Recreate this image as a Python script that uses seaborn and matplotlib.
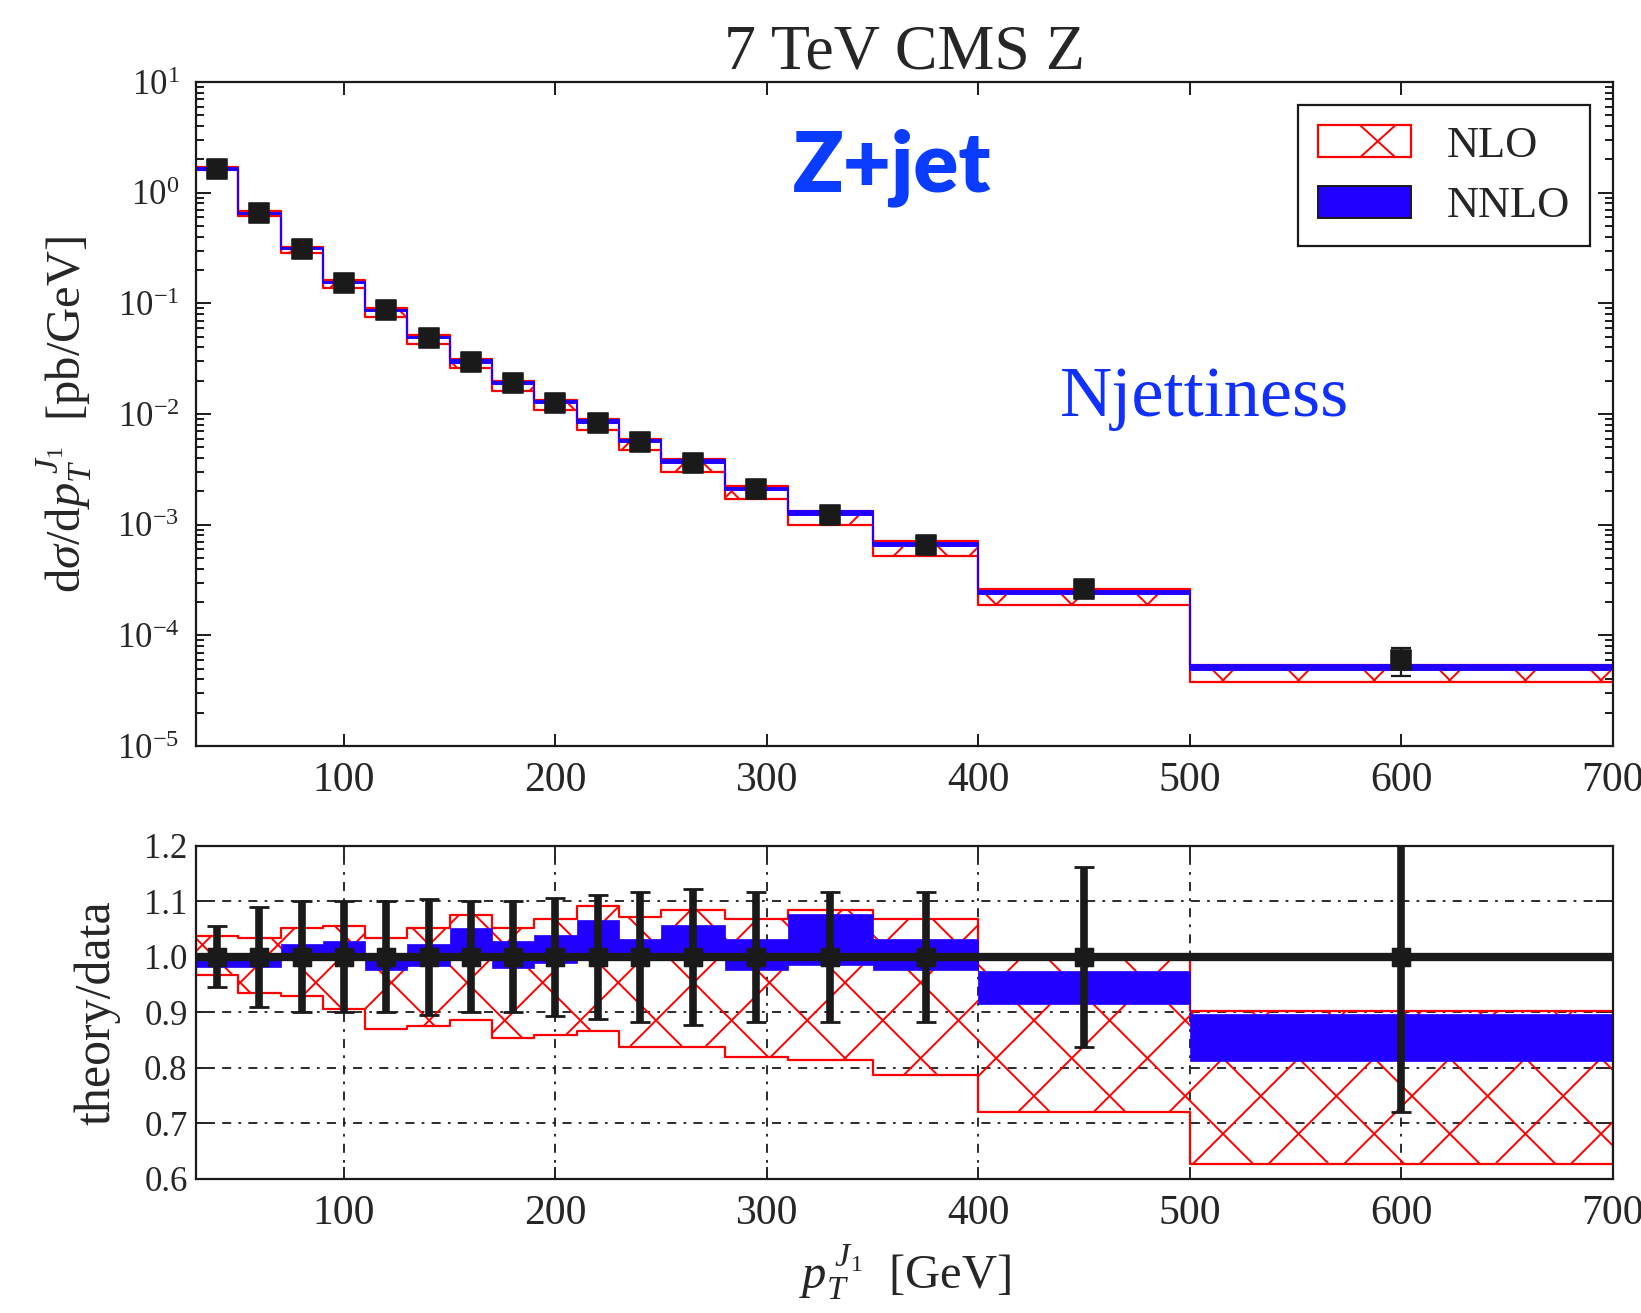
import numpy as np
import seaborn as sns
import matplotlib.pyplot as plt
from matplotlib.collections import LineCollection
from matplotlib.patches import Rectangle, Patch
from matplotlib.lines import Line2D
from matplotlib.legend_handler import HandlerBase
from matplotlib.ticker import MultipleLocator, FormatStrFormatter, LogLocator, NullFormatter

# bin edges and data points (pT of leading jet, GeV)
bin_edges = [30, 50, 70, 90, 110, 130, 150, 170, 190, 210, 230, 250, 280, 310, 350, 400, 500, 700]
pt_center = [40, 60, 80, 100, 120, 140, 160, 180, 200, 220, 240, 265, 295, 330, 375, 450, 600]

# CMS data, pb/GeV, and relative error
data_xs = [1.65, 0.66, 0.31, 0.153, 0.087, 0.049, 0.0293, 0.019, 0.0126, 0.0083, 0.0056,
           0.0036, 0.0021, 0.00123, 0.00066, 0.00026, 6.0e-5]
data_err = [0.055, 0.09, 0.10, 0.10, 0.10, 0.105, 0.10, 0.10, 0.107, 0.112, 0.117,
            0.123, 0.117, 0.117, 0.117, 0.162, 0.28]

# theory / data bands
nlo_lo = [0.967, 0.935, 0.929, 0.907, 0.870, 0.875, 0.887, 0.854, 0.860, 0.867, 0.837,
          0.837, 0.820, 0.815, 0.787, 0.721, 0.627]
nlo_hi = [1.038, 1.035, 1.052, 1.055, 1.035, 1.052, 1.076, 1.052, 1.068, 1.092, 1.072,
          1.085, 1.069, 1.085, 1.069, 1.000, 0.902]
nnlo_lo = [0.982, 0.982, 0.995, 0.995, 0.977, 0.983, 0.995, 0.981, 0.990, 0.995, 0.995,
           0.995, 0.976, 0.986, 0.976, 0.916, 0.813]
nnlo_hi = [1.005, 1.000, 1.024, 1.028, 1.000, 1.024, 1.052, 1.028, 1.040, 1.066, 1.033,
           1.057, 1.033, 1.078, 1.033, 0.974, 0.897]

sns.set_theme(style='ticks')
plt.rcParams['font.family'] = ['Liberation Serif', 'DejaVu Serif']
plt.rcParams['mathtext.fontset'] = 'custom'
plt.rcParams['mathtext.rm'] = 'Liberation Serif'
plt.rcParams['mathtext.it'] = 'Liberation Serif:italic'
plt.rcParams['mathtext.bf'] = 'Liberation Serif:bold'
plt.rcParams['axes.unicode_minus'] = False

RED = '#ff0000'
BLUE = '#2200ff'

fig = plt.figure(figsize=(16.41, 13.13), dpi=100)
ax1 = fig.add_axes([0.1194, 0.4318, 0.8635, 0.5057])
ax2 = fig.add_axes([0.1194, 0.1021, 0.8635, 0.2536])


def ext(v):
    return list(v) + [v[-1]]


def add_hatch(ax, coll, d=0.756, x0=14.12, y0=2.17, lw=1.4):
    # big diagonal cross hatching, clipped to the band
    W, H = fig.get_size_inches()
    segs = []
    a0, b0 = y0 - x0, y0 + x0
    for k in range(-45, 46):
        a = a0 + k * d
        segs.append([(-H, -H + a), (W + H, W + H + a)])
        b = b0 + k * d
        segs.append([(-H, H + b), (W + H, -(W + H) + b)])
    lc = LineCollection(segs, colors=RED, linewidths=lw, transform=fig.dpi_scale_trans)
    lc.set_clip_path(coll.get_paths()[0], coll.get_transform())
    ax.add_collection(lc, autolim=False)


data = np.array(data_xs)

# ---- top panel ----
nlo_lo_abs = np.array(nlo_lo) * data
nlo_hi_abs = np.array(nlo_hi) * data
nnlo_lo_abs = np.array(nnlo_lo) * data
nnlo_hi_abs = np.array(nnlo_hi) * data

c1 = ax1.fill_between(bin_edges, ext(nlo_lo_abs), ext(nlo_hi_abs), step='post',
                      facecolor='none', edgecolor=RED, lw=1.6, zorder=2)
add_hatch(ax1, c1)
ax1.fill_between(bin_edges, ext(nnlo_lo_abs), ext(nnlo_hi_abs), step='post',
                 facecolor=BLUE, edgecolor=BLUE, lw=1.4, zorder=3)
ax1.errorbar(pt_center, data, yerr=data * np.array(data_err), fmt='none',
             ecolor='k', elinewidth=1.6, capsize=7, capthick=1.6, zorder=4)
sns.scatterplot(x=pt_center, y=data_xs, marker='s', s=210, color='k',
                edgecolor='k', ax=ax1, zorder=5, legend=False)

ax1.set_yscale('log')
ax1.set_xlim(30, 700)
ax1.set_ylim(1e-5, 10)
ax1.xaxis.set_major_locator(MultipleLocator(100))
ax1.yaxis.set_major_locator(LogLocator(base=10, numticks=10))
ax1.yaxis.set_minor_locator(LogLocator(base=10, subs=np.arange(2, 10), numticks=20))
ax1.yaxis.set_minor_formatter(NullFormatter())
ax1.tick_params(axis='both', which='both', direction='in', top=True, right=True,
                color='k', width=1.4)
ax1.tick_params(axis='y', which='major', length=11, labelsize=25, pad=12)
ax1.tick_params(axis='y', which='minor', length=6)
ax1.tick_params(axis='x', which='major', length=9, labelsize=30, pad=11)
ax1.set_ylabel(r'$\mathrm{d}\sigma/\mathrm{d}p_T^{\;J_1}$  [pb/GeV]', fontsize=35)
ax1.yaxis.set_label_coords(-0.072, 0.5)
ax1.set_xlabel('')
ax1.set_title('7 TeV CMS Z', fontsize=46, pad=8)

ax1.text(0.4915, 0.836, 'Z+jet', transform=ax1.transAxes, ha='center', va='baseline',
         fontsize=60, fontweight='heavy', color='#0a3cff', family=['Lato', 'DejaVu Sans'])
ax1.text(0.712, 0.497, 'Njettiness', transform=ax1.transAxes, ha='center', va='baseline',
         fontsize=52, color='#1030ff')


class HandlerCross(HandlerBase):
    def create_artists(self, legend, orig_handle, xdescent, ydescent, width, height,
                       fontsize, trans):
        rect = Rectangle((-xdescent, -ydescent), width, height, facecolor='none',
                         edgecolor=RED, lw=1.6, transform=trans)
        cx = -xdescent + 0.64 * width
        h = height
        l1 = Line2D([cx - h / 2 * 1.1, cx + h / 2 * 1.1], [-ydescent, -ydescent + h],
                    color=RED, lw=1.4, transform=trans)
        l2 = Line2D([cx - h / 2 * 1.1, cx + h / 2 * 1.1], [-ydescent + h, -ydescent],
                    color=RED, lw=1.4, transform=trans)
        return [rect, l1, l2]


h_nlo = Patch(facecolor='none', edgecolor=RED)
h_nnlo = Patch(facecolor=BLUE, edgecolor='k', lw=1.4)
leg = ax1.legend([h_nlo, h_nnlo], ['NLO', 'NNLO'], loc='upper right',
                 bbox_to_anchor=(0.984, 0.965), borderaxespad=0, fontsize=32,
                 handlelength=2.1, handleheight=0.73, handletextpad=0.8,
                 labelspacing=0.45, borderpad=0.45, fancybox=False, framealpha=1,
                 edgecolor='k', handler_map={h_nlo: HandlerCross()})
leg.get_frame().set_linewidth(1.6)

# ---- ratio panel ----
c2 = ax2.fill_between(bin_edges, ext(nlo_lo), ext(nlo_hi), step='post',
                      facecolor='none', edgecolor=RED, lw=1.6, zorder=2)
add_hatch(ax2, c2)
ax2.fill_between(bin_edges, ext(nnlo_lo), ext(nnlo_hi), step='post',
                 facecolor=BLUE, edgecolor=BLUE, lw=0.5, zorder=3)
ax2.axhline(1.0, color='k', lw=6, zorder=4)
ax2.errorbar(pt_center, np.ones(len(pt_center)), yerr=data_err, fmt='none',
             ecolor='k', elinewidth=5.5, capsize=7, capthick=2, zorder=5)
sns.scatterplot(x=pt_center, y=np.ones(len(pt_center)), marker='s', s=180, color='k',
                edgecolor='k', ax=ax2, zorder=6, legend=False)

ax2.set_xlim(30, 700)
ax2.set_ylim(0.6, 1.2)
ax2.xaxis.set_major_locator(MultipleLocator(100))
ax2.yaxis.set_major_locator(MultipleLocator(0.1))
ax2.yaxis.set_major_formatter(FormatStrFormatter('%.1f'))
ax2.grid(True, color='k', lw=1.3, linestyle=(0, (5, 4, 1.5, 4)))
ax2.set_axisbelow(True)
ax2.tick_params(axis='both', direction='in', top=True, right=True, width=1.4)
ax2.tick_params(axis='y', length=12, labelsize=25, pad=6)
ax2.tick_params(axis='x', length=9, labelsize=30, pad=11)
ax2.set_ylabel('theory/data', fontsize=36)
ax2.yaxis.set_label_coords(-0.053, 0.5)
ax2.set_xlabel(r'$p_T^{\;J_1}$  [GeV]', fontsize=35)
ax2.xaxis.set_label_coords(0.5, -0.19)

for ax in (ax1, ax2):
    for sp in ax.spines.values():
        sp.set_linewidth(1.6)
        sp.set_color('k')
        sp.set_zorder(10)

fig.savefig('out.png', dpi=100)
